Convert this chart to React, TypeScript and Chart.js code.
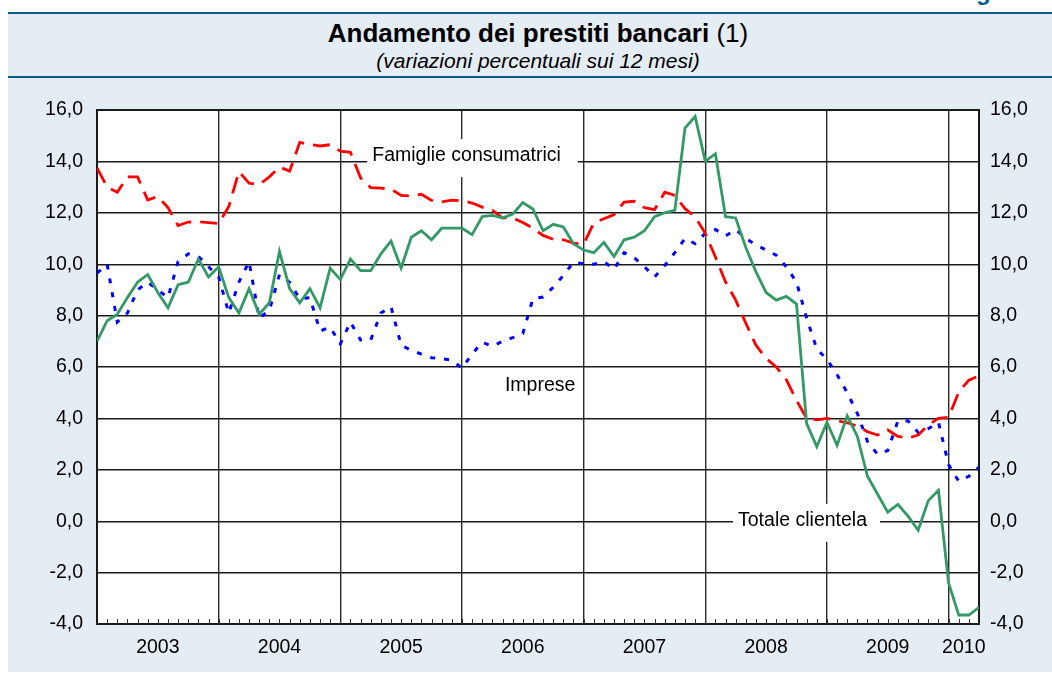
import React, { useEffect, useRef } from 'react';
import { Chart, registerables } from 'chart.js';

Chart.register(...registerables);

const FONT = "'Liberation Sans', Arial, Helvetica, sans-serif";

// Years shown on the x axis and number of months plotted in each
const years = ['2003', '2004', '2005', '2006', '2007', '2008', '2009', '2010'];
const monthsPerYear = [12, 12, 12, 12, 12, 12, 12, 3];

// Y axis ticks (percent)
const yTicks = [-4, -2, 0, 2, 4, 6, 8, 10, 12, 14, 16];

// Series: 12-month percentage changes, monthly observations
const totale = [
  7.0, 7.8, 8.05, 8.7, 9.3, 9.6, 8.9, 8.3, 9.2, 9.3, 10.2, 9.5,
  9.9, 8.7, 8.1, 9.05, 8.05, 8.5, 10.5, 9.05, 8.5, 9.05, 8.3, 9.85,
  9.4, 10.2, 9.75, 9.75, 10.4, 10.9, 9.85, 11.05, 11.3, 10.95, 11.4, 11.4,
  11.4, 11.15, 11.85, 11.9, 11.8, 11.95, 12.4, 12.15, 11.3, 11.55, 11.45, 10.8,
  10.55, 10.45, 10.85, 10.3, 10.95, 11.05, 11.3, 11.85, 12.0, 12.1, 15.3, 15.75,
  14.0, 14.3, 11.85, 11.8, 10.65, 9.7, 8.9, 8.6, 8.75, 8.45, 3.8, 2.9,
  3.85, 2.95, 4.1, 3.3, 1.75, 1.05, 0.35, 0.65, 0.2, -0.35, 0.8, 1.2,
  -2.4, -3.65, -3.65, -3.35,
];

const famiglie = [
  13.75, 13.0, 12.8, 13.4, 13.4, 12.5, 12.63, 12.2, 11.5, 11.64, 11.65, 11.62,
  11.58, 12.25, 13.6, 13.15, 13.1, 13.4, 13.78, 13.62, 14.74, 14.66, 14.6, 14.65,
  14.4, 14.35, 13.36, 12.98, 12.96, 12.92, 12.68, 12.65, 12.72, 12.48, 12.42, 12.49,
  12.47, 12.38, 12.22, 12.1, 11.8, 11.8, 11.62, 11.4, 11.12, 10.97, 10.95, 10.82,
  10.78, 11.6, 11.77, 11.93, 12.42, 12.45, 12.2, 12.12, 12.8, 12.68, 12.16, 11.84,
  11.2, 10.28, 9.31, 8.6, 7.7, 6.85, 6.33, 6.0, 5.5, 4.7, 4.0, 3.94,
  4.0, 3.91, 3.83, 3.7, 3.48, 3.35, 3.55, 3.3, 3.23, 3.35, 3.74, 4.0,
  4.04, 5.03, 5.49, 5.66,
];

const imprese = [
  9.65, 10.0, 7.75, 8.1, 9.0, 9.3, 9.0, 8.7, 10.1, 10.4, 10.3, 9.9,
  9.5, 8.1, 9.3, 10.1, 7.9, 8.2, 9.6, 9.3, 8.65, 8.7, 7.4, 7.55,
  6.9, 7.75, 7.05, 7.05, 8.1, 8.35, 6.85, 6.65, 6.5, 6.36, 6.32, 6.27,
  5.95, 6.5, 6.97, 6.8, 7.0, 7.14, 7.3, 8.66, 8.72, 9.1, 9.56, 10.08,
  10.02, 10.0, 10.1, 9.8, 10.45, 10.25, 9.9, 9.5, 9.95, 10.45, 11.0, 10.8,
  11.2, 11.35, 11.1, 11.35, 11.0, 10.75, 10.55, 10.35, 9.9, 9.3, 7.9, 6.7,
  6.3, 5.7, 5.0, 4.2, 3.1, 2.6, 2.75, 3.9, 3.9, 3.45, 3.6, 3.85,
  2.2, 1.55, 1.75, 2.1,
];

// In-chart series labels (anchored in data coordinates: month index, value)
const seriesLabels = [
  { text: 'Famiglie consumatrici', month: 27.15, value: 14.01, box: true, padL: 5, padR: 17 },
  { text: 'Imprese', month: 40.24, value: 5.08, box: false, padL: 0, padR: 0 },
  { text: 'Totale clientela', month: 63.23, value: -0.18, box: true, padL: 5, padR: 13 },
];

const yearBounds: number[] = [0];
monthsPerYear.forEach((m) => yearBounds.push(yearBounds[yearBounds.length - 1] + m));
const totalMonths = yearBounds[yearBounds.length - 1];
const yearCenters = years.map((_, i) => (yearBounds[i] + yearBounds[i + 1]) / 2);
const innerBounds = yearBounds.slice(1, -1);

const toXY = (arr: number[]) => arr.map((v, i) => ({ x: i, y: v }));
const fmt = (v: number) => Number(v).toFixed(1).replace('.', ',');

const overlayPlugin = {
  id: 'overlay',
  beforeDraw(chart: any) {
    const { ctx, chartArea } = chart;
    ctx.save();
    ctx.fillStyle = '#ffffff';
    ctx.fillRect(chartArea.left, chartArea.top, chartArea.right - chartArea.left, chartArea.bottom - chartArea.top);
    ctx.restore();
  },
  beforeDatasetsDraw(chart: any) {
    const { ctx, chartArea, scales } = chart;
    const xs = scales.x;
    const ys = scales.y;
    ctx.save();
    ctx.strokeStyle = '#333';
    ctx.lineWidth = 1;
    for (let m = 1; m < totalMonths; m++) {
      const px = Math.round(xs.getPixelForValue(m)) + 0.5;
      ctx.beginPath();
      ctx.moveTo(px, chartArea.bottom);
      ctx.lineTo(px, chartArea.bottom - 5);
      ctx.stroke();
    }
    ctx.font = `19.5px ${FONT}`;
    ctx.textBaseline = 'alphabetic';
    ctx.textAlign = 'left';
    for (const l of seriesLabels) {
      const px = xs.getPixelForValue(l.month);
      const py = ys.getPixelForValue(l.value);
      const w = ctx.measureText(l.text).width;
      if (l.box) {
        ctx.fillStyle = '#ffffff';
        ctx.fillRect(px - l.padL, py - 22, w + l.padL + l.padR, 38);
      }
      ctx.fillStyle = '#000000';
      ctx.fillText(l.text, px, py);
    }
    ctx.restore();
  },
};

function ChartCanvas() {
  const ref = useRef<HTMLCanvasElement | null>(null);
  useEffect(() => {
    if (!ref.current) return;
    const tickFont = { family: FONT, size: 19.5 };
    const chart = new Chart(ref.current, {
      type: 'line',
      data: {
        datasets: [
          {
            label: 'Totale clientela',
            data: toXY(totale),
            borderColor: '#339966',
            borderWidth: 2.8,
            pointRadius: 0,
            tension: 0,
          },
          {
            label: 'Famiglie consumatrici',
            data: toXY(famiglie),
            borderColor: '#ff0000',
            borderWidth: 2.8,
            borderDash: [17, 9],
            pointRadius: 0,
            tension: 0,
          },
          {
            label: 'Imprese',
            data: toXY(imprese),
            borderColor: '#0000ff',
            borderWidth: 3,
            borderDash: [5, 9],
            pointRadius: 0,
            tension: 0,
          },
        ],
      },
      options: {
        animation: false,
        responsive: false,
        maintainAspectRatio: false,
        devicePixelRatio: 1,
        layout: { padding: { top: 30, left: 0, right: 0, bottom: 0 } },
        plugins: {
          legend: { display: false },
          tooltip: { enabled: false },
          title: { display: false },
        },
        scales: {
          x: {
            type: 'linear',
            position: 'bottom',
            min: 0,
            max: totalMonths,
            afterBuildTicks: (s: any) => {
              s.ticks = innerBounds.map((v) => ({ value: v }));
            },
            afterFit: (s: any) => {
              s.height = 0;
            },
            ticks: { display: false },
            grid: { color: '#2a2a2a', lineWidth: 1.4, drawTicks: false },
            border: { display: true, color: '#1a1a1a', width: 2 },
          },
          xYears: {
            type: 'linear',
            position: 'bottom',
            min: 0,
            max: totalMonths,
            afterBuildTicks: (s: any) => {
              s.ticks = yearCenters.map((v) => ({ value: v }));
            },
            afterFit: (s: any) => {
              s.height = 48;
            },
            ticks: {
              autoSkip: false,
              maxRotation: 0,
              padding: 12,
              color: '#000',
              font: tickFont,
              callback: (_v: any, i: number) => years[i],
            },
            grid: { display: false, drawTicks: false },
            border: { display: false },
          },
          y: {
            type: 'linear',
            position: 'left',
            min: yTicks[0],
            max: yTicks[yTicks.length - 1],
            afterBuildTicks: (s: any) => {
              s.ticks = yTicks.map((v) => ({ value: v }));
            },
            afterFit: (s: any) => {
              s.width = 89;
            },
            ticks: {
              padding: 14,
              color: '#000',
              font: tickFont,
              callback: (v: any) => fmt(v),
            },
            grid: {
              color: '#1a1a1a',
              lineWidth: (c: any) => (c.tick && c.tick.value === yTicks[yTicks.length - 1] ? 2 : 1.4),
              drawTicks: false,
            },
            border: { display: true, color: '#1a1a1a', width: 2 },
          },
          y2: {
            type: 'linear',
            position: 'right',
            min: yTicks[0],
            max: yTicks[yTicks.length - 1],
            afterBuildTicks: (s: any) => {
              s.ticks = yTicks.map((v) => ({ value: v }));
            },
            afterFit: (s: any) => {
              s.width = 73;
            },
            ticks: {
              padding: 11,
              color: '#000',
              font: tickFont,
              callback: (v: any) => fmt(v),
            },
            grid: { display: false, drawTicks: false },
            border: { display: true, color: '#1a1a1a', width: 2 },
          },
        },
      },
      plugins: [overlayPlugin],
    } as any);
    return () => chart.destroy();
  }, []);
  return (
    <canvas
      ref={ref}
      width={1044}
      height={592}
      style={{ position: 'absolute', left: 8, top: 80, width: 1044, height: 592, display: 'block' }}
    />
  );
}

export default function App() {
  const navy = '#0b5986';
  return (
    <div
      style={{
        position: 'fixed',
        left: 0,
        top: 0,
        width: 1052,
        height: 673,
        overflow: 'hidden',
        background: '#ffffff',
        fontFamily: FONT,
      }}
    >
      <div
        style={{
          position: 'absolute',
          right: 24,
          top: -20,
          fontSize: 24,
          lineHeight: '24px',
          fontWeight: 'bold',
          color: navy,
          whiteSpace: 'nowrap',
        }}
      >
        Figura
      </div>
      <div style={{ position: 'absolute', left: 8, top: 14, width: 1044, height: 658, background: '#e4ecf4' }} />
      <div style={{ position: 'absolute', left: 8, top: 12, width: 1044, height: 2, background: navy }} />
      <div style={{ position: 'absolute', left: 8, top: 76, width: 1044, height: 2, background: navy }} />
      <div
        style={{
          position: 'absolute',
          left: 97,
          top: 18,
          width: 882,
          textAlign: 'center',
          fontSize: 26,
          lineHeight: '30px',
          color: '#000',
          whiteSpace: 'nowrap',
        }}
      >
        <span style={{ fontWeight: 'bold' }}>Andamento dei prestiti bancari</span> (1)
      </div>
      <div
        style={{
          position: 'absolute',
          left: 97,
          top: 49,
          width: 882,
          textAlign: 'center',
          fontSize: 21,
          lineHeight: '24px',
          fontStyle: 'italic',
          color: '#000',
          whiteSpace: 'nowrap',
        }}
      >
        (variazioni percentuali sui 12 mesi)
      </div>
      <ChartCanvas />
    </div>
  );
}
